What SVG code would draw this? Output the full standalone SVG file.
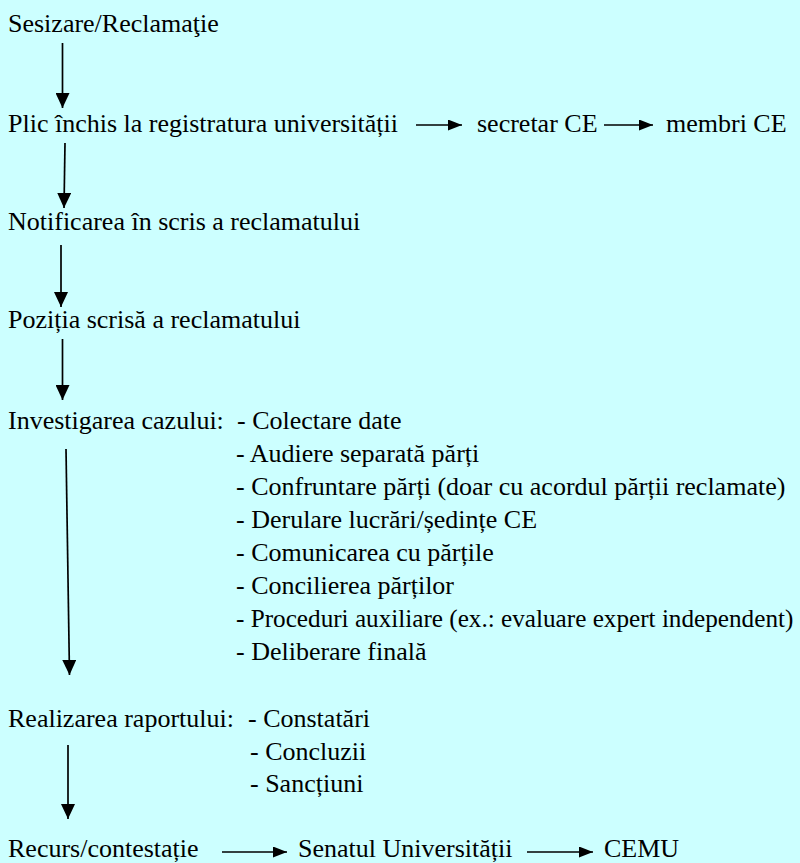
<svg xmlns="http://www.w3.org/2000/svg" width="800" height="863" viewBox="0 0 800 863">
<style>
text { font-family: "Liberation Serif", "Times New Roman", Times, serif; font-size: 26px; fill: #000; }
.s { font-size: 25.2px; }
.c { stroke: #000; stroke-width: 1.7; fill: none; marker-end: url(#ah); }
.h { stroke: #000; stroke-width: 1.7; fill: none; marker-end: url(#ahs); }
</style>
<defs>
<marker id="ah" viewBox="0 0 15 14" refX="15" refY="7" markerWidth="15" markerHeight="14" markerUnits="userSpaceOnUse" orient="auto">
<path d="M0,0 L15,7 L0,14 z" fill="#000"/>
</marker>
<marker id="ahs" viewBox="0 0 14 11" refX="14" refY="5.5" markerWidth="14" markerHeight="11" markerUnits="userSpaceOnUse" orient="auto">
<path d="M0,0 L14,5.5 L0,11 z" fill="#000"/>
</marker>
</defs>
<rect width="800" height="863" fill="#CCFFFF"/>
<g id="connectors">
<line class="c" x1="62.5" y1="43" x2="62.5" y2="108"/>
<line class="c" x1="65" y1="143" x2="64" y2="208"/>
<line class="c" x1="61" y1="245" x2="61" y2="307"/>
<line class="c" x1="62.5" y1="339" x2="62.5" y2="400"/>
<line class="c" x1="66" y1="449" x2="69.5" y2="675"/>
<line class="c" x1="68" y1="745" x2="68" y2="819"/>
<line class="h" x1="416" y1="125" x2="462" y2="125"/>
<line class="h" x1="604" y1="125" x2="653" y2="125"/>
<line class="h" x1="222" y1="852" x2="287" y2="852"/>
<line class="h" x1="527" y1="852" x2="593" y2="852"/>
</g>
<g id="n-sesizare"><text x="8" y="32">Sesizare/Reclamaţie</text></g>
<g id="n-plic"><text x="8" y="132">Plic închis la registratura universității</text></g>
<g id="n-secretar"><text x="477" y="132">secretar CE</text></g>
<g id="n-membri"><text x="666" y="132">membri CE</text></g>
<g id="n-notificarea"><text x="8" y="230">Notificarea în scris a reclamatului</text></g>
<g id="n-pozitia"><text x="8" y="328">Poziția scrisă a reclamatului</text></g>
<g id="n-investigarea">
<text x="8" y="429">Investigarea cazului:</text>
<text x="237" y="429">- Colectare date</text>
<text x="236" y="462">- Audiere separată părți</text>
<text x="236" y="495">- Confruntare părți (doar cu acordul părții reclamate)</text>
<text x="236" y="528">- Derulare lucrări/ședințe CE</text>
<text x="236" y="561">- Comunicarea cu părțile</text>
<text x="236" y="594">- Concilierea părților</text>
<text class="s" x="236" y="627">- Proceduri auxiliare (ex.: evaluare expert independent)</text>
<text x="236" y="660">- Deliberare finală</text>
</g>
<g id="n-realizarea">
<text x="8" y="727">Realizarea raportului:</text>
<text x="248" y="727">- Constatări</text>
<text x="250" y="760">- Concluzii</text>
<text x="250" y="792">- Sancțiuni</text>
</g>
<g id="n-recurs"><text x="8" y="857">Recurs/contestație</text></g>
<g id="n-senatul"><text x="298" y="857">Senatul Universității</text></g>
<g id="n-cemu"><text x="604" y="857">CEMU</text></g>
</svg>
